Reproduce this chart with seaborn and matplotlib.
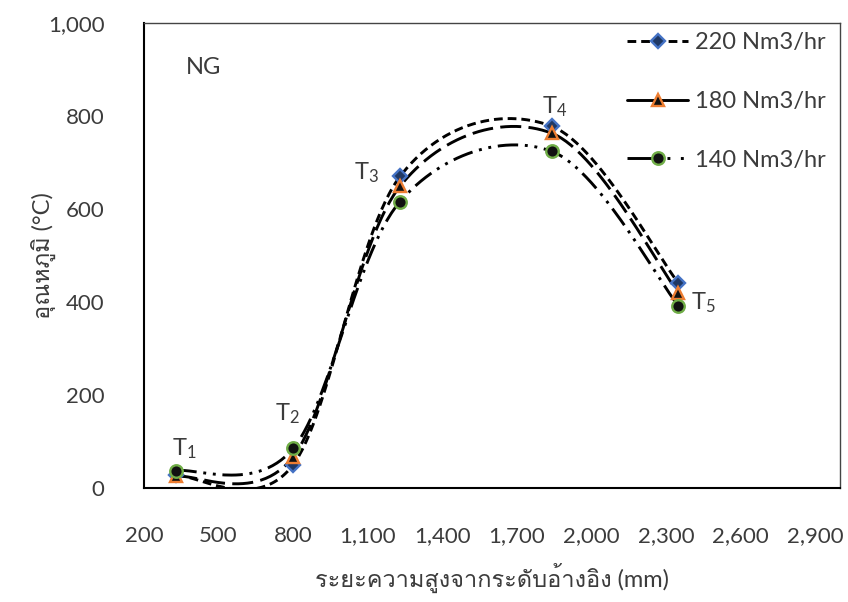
import matplotlib
matplotlib.use("Agg")
import numpy as np
import pandas as pd
import seaborn as sns
import matplotlib.pyplot as plt
from matplotlib import font_manager
from matplotlib.lines import Line2D

# Measurement positions (mm above reference level) and temperatures (°C)
positions = [330, 800, 1230, 1840, 2350]
temp_220 = [27, 50, 670, 778, 441]
temp_180 = [25, 67, 649, 763, 420]
temp_140 = [37, 85, 616, 724, 392]
series_labels = ["220 Nm3/hr", "180 Nm3/hr", "140 Nm3/hr"]
point_labels = ["1", "2", "3", "4", "5"]
x_ticks = [200, 500, 800, 1100, 1400, 1700, 2000, 2300, 2600, 2900]
y_ticks = [0, 200, 400, 600, 800, 1000]


def find_thai_family():
    try:
        from fontTools.ttLib import TTFont
    except Exception:
        return None
    seen = set()
    for f in font_manager.fontManager.ttflist:
        if f.name in seen:
            continue
        seen.add(f.name)
        try:
            tt = TTFont(f.fname, fontNumber=0, lazy=True)
            cmap = tt.getBestCmap()
            if cmap and 0x0E2D in cmap and 0x0E39 in cmap:
                return f.name
        except Exception:
            continue
    return None


def smooth_curve(xs, ys, n=60):
    """Cubic Bezier smoothing through the points (spreadsheet-style smoothed line)."""
    p = np.column_stack([xs, ys]).astype(float)
    ext = np.vstack([p[0], p, p[-1]])
    out = []
    for i in range(len(p) - 1):
        p0, p1, p2, p3 = ext[i], ext[i + 1], ext[i + 2], ext[i + 3]
        c1 = p1 + (p2 - p0) / 6.0
        c2 = p2 - (p3 - p1) / 6.0
        t = np.linspace(0, 1, n)[:, None]
        seg = ((1 - t) ** 3) * p1 + 3 * ((1 - t) ** 2) * t * c1 + 3 * (1 - t) * t ** 2 * c2 + t ** 3 * p2
        out.append(seg if i == 0 else seg[1:])
    s = np.vstack(out)
    return s[:, 0], s[:, 1]


sns.set_theme(style="white")
thai = find_thai_family()
families = ["Lato", "DejaVu Sans"]
if thai:
    families = ["Lato", thai, "DejaVu Sans"]
plt.rcParams["font.family"] = families
plt.rcParams["mathtext.fontset"] = "custom"
plt.rcParams["mathtext.rm"] = "Lato"
plt.rcParams["mathtext.it"] = "Lato"

text_color = "#3c3c3c"

fig = plt.figure(figsize=(8.48, 6.02), dpi=100)
ax = fig.add_axes([144 / 848, 1 - 488 / 602, (840 - 144) / 848, (488 - 23) / 602])

styles = [
    dict(dashes=(3.0, 1.7), marker="D", ms=7, mfc="#1f3864", mec="#4472c4"),
    dict(dashes=(7.2, 2.5), marker="^", ms=9, mfc="#111111", mec="#ed7d31"),
    dict(dashes=(7, 2.3, 1, 2.3, 1, 2.3), marker="o", ms=9, mfc="#111111", mec="#70ad47"),
]
legend_dashes = [(3.0, 1.7), None, (11.9, 1.8, 1, 3.6, 1, 8)]

frames = []
for label, temps in zip(series_labels, [temp_220, temp_180, temp_140]):
    sx, sy = smooth_curve(positions, temps)
    frames.append(pd.DataFrame({"x": sx, "y": sy, "series": label}))
curves = pd.concat(frames, ignore_index=True)
points = pd.DataFrame({
    "x": positions * 3,
    "y": temp_220 + temp_180 + temp_140,
    "series": [s for s in series_labels for _ in positions],
})

handles = []
for label, st, ld in zip(series_labels, styles, legend_dashes):
    sub = curves[curves["series"] == label]
    sns.lineplot(data=sub, x="x", y="y", ax=ax, color="black", lw=2.1,
                 dashes=False, sort=False, estimator=None, legend=False)
    ax.lines[-1].set_dashes(st["dashes"])
    pts = points[points["series"] == label]
    ax.plot(pts["x"], pts["y"], ls="none", marker=st["marker"], ms=st["ms"],
            mfc=st["mfc"], mec=st["mec"], mew=1.7, zorder=5)
    h = Line2D([], [], color="black", lw=2.1, marker=st["marker"], ms=st["ms"],
               mfc=st["mfc"], mec=st["mec"], mew=1.7)
    if ld is not None:
        h.set_dashes(ld)
    handles.append(h)

ax.set_xlim(200, 3000)
ax.set_ylim(0, 1000)
ax.set_xticks(x_ticks)
ax.set_yticks(y_ticks)
ax.set_xticklabels([f"{v:,}" for v in x_ticks])
ax.set_yticklabels([f"{v:,}" for v in y_ticks])
ax.tick_params(axis="both", labelsize=16, labelcolor=text_color, color="black",
               direction="out", length=7.5, width=1.4)
ax.tick_params(axis="x", pad=20)
ax.tick_params(axis="y", pad=21)

for side in ["left", "bottom"]:
    ax.spines[side].set_color("black")
    ax.spines[side].set_linewidth(1.5)
for side in ["top", "right"]:
    ax.spines[side].set_color("#444444")
    ax.spines[side].set_linewidth(1.0)

ax.set_xlabel("ระยะความสูงจากระดับอ้างอิง (mm)", fontsize=17, color=text_color, labelpad=12)
ax.set_ylabel("อุณหภูมิ (°C)", fontsize=17, color=text_color, labelpad=-6)

ax.text(440, 905, "NG", fontsize=17, color=text_color, ha="center", va="center")

label_pos = [(362, 84), (775, 160), (1095, 679), (1853, 819), (2452, 399)]
for (lx, ly), k in zip(label_pos, point_labels):
    ax.text(lx, ly, r"$\mathregular{T_{%s}}$" % k, fontsize=17, color=text_color,
            ha="center", va="center")

ax.legend(handles, series_labels, loc="upper left",
          bbox_to_anchor=(627 / 848, 1 - 32 / 602), bbox_transform=fig.transFigure,
          frameon=False, fontsize=17, labelcolor=text_color,
          handlelength=2.6, handletextpad=0.3, labelspacing=1.6,
          borderpad=0, borderaxespad=0)

fig.savefig("out.png", dpi=100)
